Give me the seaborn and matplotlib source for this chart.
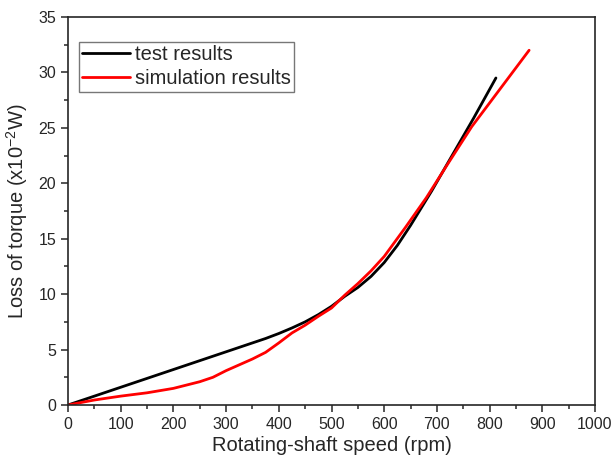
import pandas as pd
import seaborn as sns
import matplotlib.pyplot as plt
from matplotlib.ticker import MultipleLocator

sns.set_style("ticks")
plt.rcParams["font.family"] = ["Liberation Sans", "DejaVu Sans"]

# values
test_speed = [0, 100, 200, 300, 375, 400, 425, 450, 475, 500, 525, 550, 575,
              600, 625, 650, 690, 730, 770, 812]
test_loss = [0, 1.6, 3.2, 4.8, 6.0, 6.45, 6.95, 7.5, 8.15, 8.9, 9.8, 10.6, 11.6,
             12.85, 14.4, 16.2, 19.3, 22.6, 25.9, 29.5]

sim_speed = [0, 50, 100, 150, 200, 250, 275, 300, 350, 375, 400, 425, 450,
             475, 500, 525, 550, 575, 600, 640, 680, 720, 766, 815, 875]
sim_loss = [0, 0.45, 0.8, 1.1, 1.5, 2.1, 2.5, 3.1, 4.15, 4.75, 5.6, 6.5, 7.2,
            8.0, 8.75, 9.9, 10.95, 12.1, 13.4, 16.0, 18.7, 21.7, 25.1, 28.2, 32.0]

df = pd.concat([
    pd.DataFrame({"speed": test_speed, "loss": test_loss, "series": "test results"}),
    pd.DataFrame({"speed": sim_speed, "loss": sim_loss, "series": "simulation results"}),
])

fig = plt.figure(figsize=(6.13, 4.61), dpi=100)
ax = fig.add_axes([68 / 613, 56 / 461, 527 / 613, 388 / 461])

sns.lineplot(data=df, x="speed", y="loss", hue="series", sort=False,
             palette={"test results": "black", "simulation results": "#ff0000"},
             linewidth=2.0, ax=ax)

ax.set_xlim(0, 1000)
ax.set_ylim(0, 35)
ax.xaxis.set_major_locator(MultipleLocator(100))
ax.xaxis.set_minor_locator(MultipleLocator(50))
ax.yaxis.set_major_locator(MultipleLocator(5))
ax.yaxis.set_minor_locator(MultipleLocator(2.5))
ax.tick_params(which="major", length=5, width=1.1, labelsize=11.5, direction="out")
ax.tick_params(which="minor", length=3, width=1.1, direction="out")
for s in ax.spines.values():
    s.set_linewidth(1.2)

ax.set_xlabel("Rotating-shaft speed (rpm)", fontsize=14.5, labelpad=3)
ax.set_ylabel(r"Loss of torque (x10$^{\mathregular{-2}}$W)", fontsize=14.5, labelpad=6)

ax.legend(title=None, loc="upper left", bbox_to_anchor=(0.021, 0.936),
          borderaxespad=0, fontsize=14.5, frameon=True, fancybox=False,
          edgecolor="#777777", framealpha=1, handlelength=2.4,
          handletextpad=0.25, borderpad=0.15, labelspacing=0.28)

fig.savefig("out.png", dpi=100)
